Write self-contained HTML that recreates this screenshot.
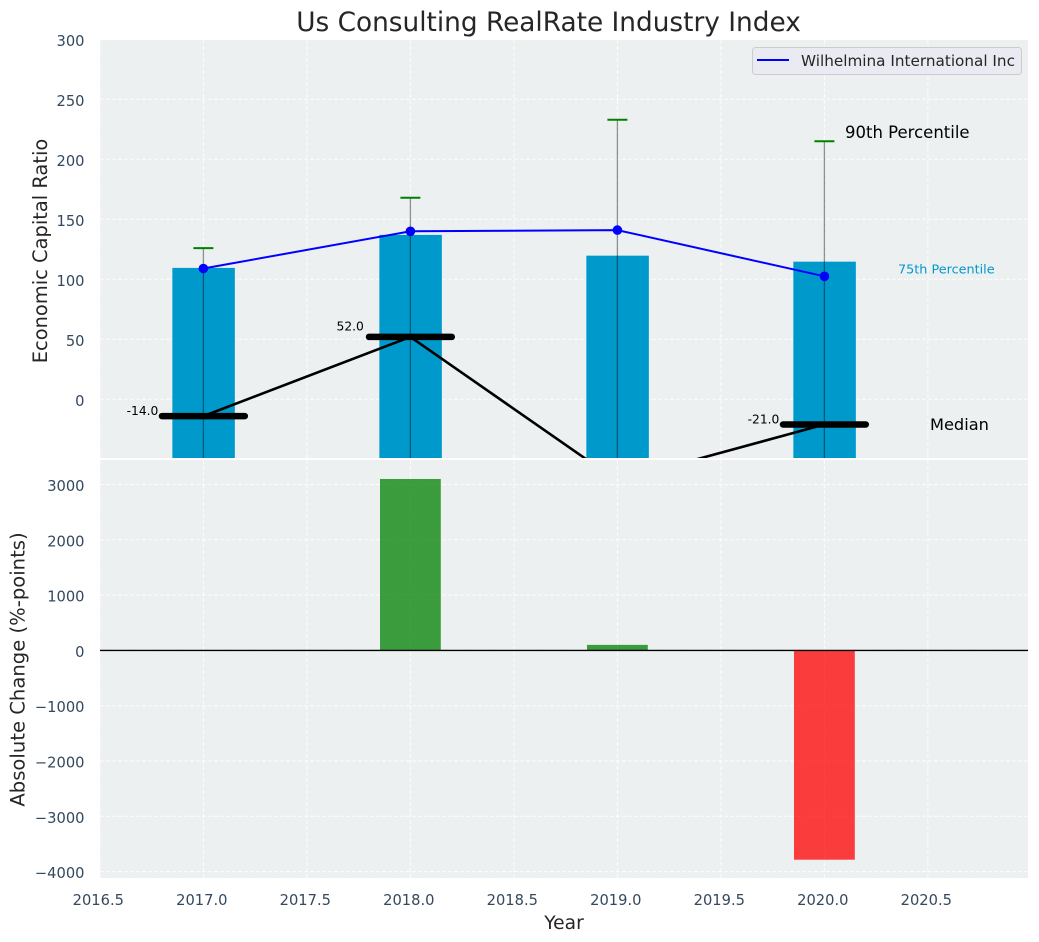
<!DOCTYPE html>
<html lang="en">
<head>
<meta charset="utf-8">
<title>Us Consulting RealRate Industry Index</title>
<style>
html,body{margin:0;padding:0;background:#fff;width:1039px;height:942px;overflow:hidden}
svg{display:block}
text{font-family:"DejaVu Sans","Liberation Sans",sans-serif}
</style>
</head>
<body>
<svg id="chart" xmlns="http://www.w3.org/2000/svg" width="1039" height="942" viewBox="0 0 1039 942">
  <defs>
    <clipPath id="clip-top"><rect x="100" y="40" width="928" height="418"></rect></clipPath>
    <clipPath id="clip-bottom"><rect x="100" y="460" width="928" height="418"></rect></clipPath>
  </defs>
  <rect x="100" y="40" width="928" height="418" fill="#ecf0f1"></rect>
  <rect x="100" y="460" width="928" height="418" fill="#ecf0f1"></rect>
  <g id="top-grid" clip-path="url(#clip-top)"></g>
  <g id="bottom-grid" clip-path="url(#clip-bottom)"></g>
  <g id="top-marks" clip-path="url(#clip-top)"></g>
  <g id="bottom-marks" clip-path="url(#clip-bottom)"></g>
  <g id="axis-labels"></g>
  <text x="548.5" y="31" text-anchor="middle" font-size="26.35" fill="#262626">Us Consulting RealRate Industry Index</text>
  <text transform="translate(47,251) rotate(-90)" text-anchor="middle" font-size="19.45" fill="#262626">Economic Capital Ratio</text>
  <text transform="translate(24.5,669.5) rotate(-90)" text-anchor="middle" font-size="19.6" fill="#262626">Absolute Change (%-points)</text>
  <text x="564" y="929" text-anchor="middle" font-size="18.67" fill="#262626">Year</text>
  <text x="845" y="138" font-size="16.5" fill="#000">90th Percentile</text>
  <text x="898" y="273.3" font-size="12.8" fill="#0099cc">75th Percentile</text>
  <text x="930" y="430" font-size="16.2" fill="#000">Median</text>
  <g>
    <rect x="752.5" y="47.5" width="269" height="27" rx="3" fill="#eaeaf2" stroke="#cccccc" stroke-width="1"></rect>
    <line x1="757" y1="60" x2="789" y2="60" stroke="#0000ff" stroke-width="2"></line>
    <text x="801" y="66" font-size="15.24" fill="#262626">Wilhelmina International Inc</text>
  </g>
</svg>
<script>
var years = [2017, 2018, 2019, 2020];
var percentile75 = [109.5, 137, 119.7, 114.7];
var percentile90 = [126, 168, 233, 215];
var percentile10 = [-60, -60, -60, -60];
var medians = [-14, 52, -68, -21];
var companyValues = [109, 140, 141, 102.5];
var absoluteChange = [0, 3100, 100, -3785];
var xTicks = [2016.5, 2017, 2017.5, 2018, 2018.5, 2019, 2019.5, 2020, 2020.5];
var xTickLabels = ["2016.5", "2017.0", "2017.5", "2018.0", "2018.5", "2019.0", "2019.5", "2020.0", "2020.5"];
var topYTicks = [0, 50, 100, 150, 200, 250, 300];
var topYTickLabels = ["0", "50", "100", "150", "200", "250", "300"];
var bottomYTicks = [-4000, -3000, -2000, -1000, 0, 1000, 2000, 3000];
var bottomYTickLabels = ["\u22124000", "\u22123000", "\u22122000", "\u22121000", "0", "1000", "2000", "3000"];

var NS = "http://www.w3.org/2000/svg";
function xScale(v) { return 203.4 + (v - 2017) * 207; }
function yTop(v) { return 399.3 - 1.2 * v; }
function yBottom(v) { return 650.4 - 0.0553 * v; }
function make(tag, parent, props) {
  var el = document.createElementNS(NS, tag);
  for (var k in props) { el.setAttribute(k, props[k]); }
  parent.appendChild(el);
  return el;
}
var topGrid = document.getElementById("top-grid");
var bottomGrid = document.getElementById("bottom-grid");
var topMarks = document.getElementById("top-marks");
var bottomMarks = document.getElementById("bottom-marks");
var axisLabels = document.getElementById("axis-labels");
var tickColor = "#34495e";
var gridStyle = { stroke: "#ffffff", "stroke-width": 1, "stroke-dasharray": "4 2", "stroke-opacity": 0.85 };
function gridLine(parent, x1, y1, x2, y2) {
  var p = { x1: x1, y1: y1, x2: x2, y2: y2 };
  for (var k in gridStyle) { p[k] = gridStyle[k]; }
  return make("line", parent, p);
}

xTicks.forEach(function (t, i) {
  var a = gridLine(topGrid, xScale(t), 40, xScale(t), 458);
  
  
  var b = gridLine(bottomGrid, xScale(t), 460, xScale(t), 878);
  
  
  var label = make("text", axisLabels, { x: xScale(t) - 1.6, y: 905, "text-anchor": "middle", "font-size": 14.67, fill: tickColor });
  label.textContent = xTickLabels[i];
  
  
});

topYTicks.forEach(function (t, i) {
  var g = gridLine(topGrid, 100, yTop(t), 1028, yTop(t));
  
  
  var label = make("text", axisLabels, { x: 84.5, y: yTop(t) + 6.5, "text-anchor": "end", "font-size": 14.67, fill: tickColor });
  label.textContent = topYTickLabels[i];
  
  
});

bottomYTicks.forEach(function (t, i) {
  var g = gridLine(bottomGrid, 100, yBottom(t), 1028, yBottom(t));
  
  
  var label = make("text", axisLabels, { x: 84.5, y: yBottom(t) + 6.5, "text-anchor": "end", "font-size": 14.67, fill: tickColor });
  label.textContent = bottomYTickLabels[i];
  
  
});

/* 75th percentile bars */
years.forEach(function (yr, i) {
  var bar = make("rect", topMarks, { x: xScale(yr - 0.15), y: yTop(percentile75[i]), width: xScale(yr + 0.15) - xScale(yr - 0.15) + 0.4, height: Math.max(0, 470 - yTop(percentile75[i])), fill: "#0099cc" });
  
  
});

/* whiskers and caps */
years.forEach(function (yr, i) {
  var w = make("line", topMarks, { x1: xScale(yr), x2: xScale(yr), y1: yTop(percentile90[i]), y2: yTop(percentile10[i]), stroke: "#000000", "stroke-opacity": 0.42, "stroke-width": 1.3 });
  
  
  var cap = make("line", topMarks, { x1: xScale(yr) - 10, x2: xScale(yr) + 10, y1: yTop(percentile90[i]), y2: yTop(percentile90[i]), stroke: "#008000", "stroke-width": 2 });
  
  
});

/* median connecting line */
var medianPoints = years.map(function (yr, i) { return xScale(yr) + "," + yTop(medians[i]); }).join(" ");
var medianLine = make("polyline", topMarks, { points: medianPoints, fill: "none", stroke: "#000000", "stroke-width": 2.6 });



/* median ticks and value labels */
years.forEach(function (yr, i) {
  var m = make("line", topMarks, { x1: xScale(yr - 0.2), x2: xScale(yr + 0.2), y1: yTop(medians[i]), y2: yTop(medians[i]), stroke: "#000000", "stroke-width": 6.5, "stroke-linecap": "round" });
  
  
  var t = make("text", topMarks, { x: xScale(yr) - (medians[i] > 0 ? 46.5 : 45), y: yTop(medians[i]) - (medians[i] > 0 ? 6.3 : 1.1), "text-anchor": "end", "font-size": 12.3, fill: "#000000" });
  t.textContent = medians[i].toFixed(1);
  
  
});

/* company line */
var companyPoints = years.map(function (yr, i) { return xScale(yr) + "," + yTop(companyValues[i]); }).join(" ");
var companyLine = make("polyline", topMarks, { points: companyPoints, fill: "none", stroke: "#0000ff", "stroke-width": 2 });


years.forEach(function (yr, i) {
  var pt = make("circle", topMarks, { cx: xScale(yr), cy: yTop(companyValues[i]), r: 4.8, fill: "#0000ff" });
  
  
});

/* absolute change bars */
years.forEach(function (yr, i) {
  var v = absoluteChange[i];
  var top = Math.min(yBottom(v), yBottom(0));
  var bar = make("rect", bottomMarks, { x: xScale(yr) - 30.4, y: top, width: 60.8, height: Math.abs(yBottom(v) - yBottom(0)), fill: v >= 0 ? "#008000" : "#ff0000", "fill-opacity": 0.75 });
  
  
});
var zero = make("line", bottomMarks, { x1: 100, x2: 1028, y1: yBottom(0), y2: yBottom(0), stroke: "#000000", "stroke-width": 1.4 });


</script>
</body>
</html>
